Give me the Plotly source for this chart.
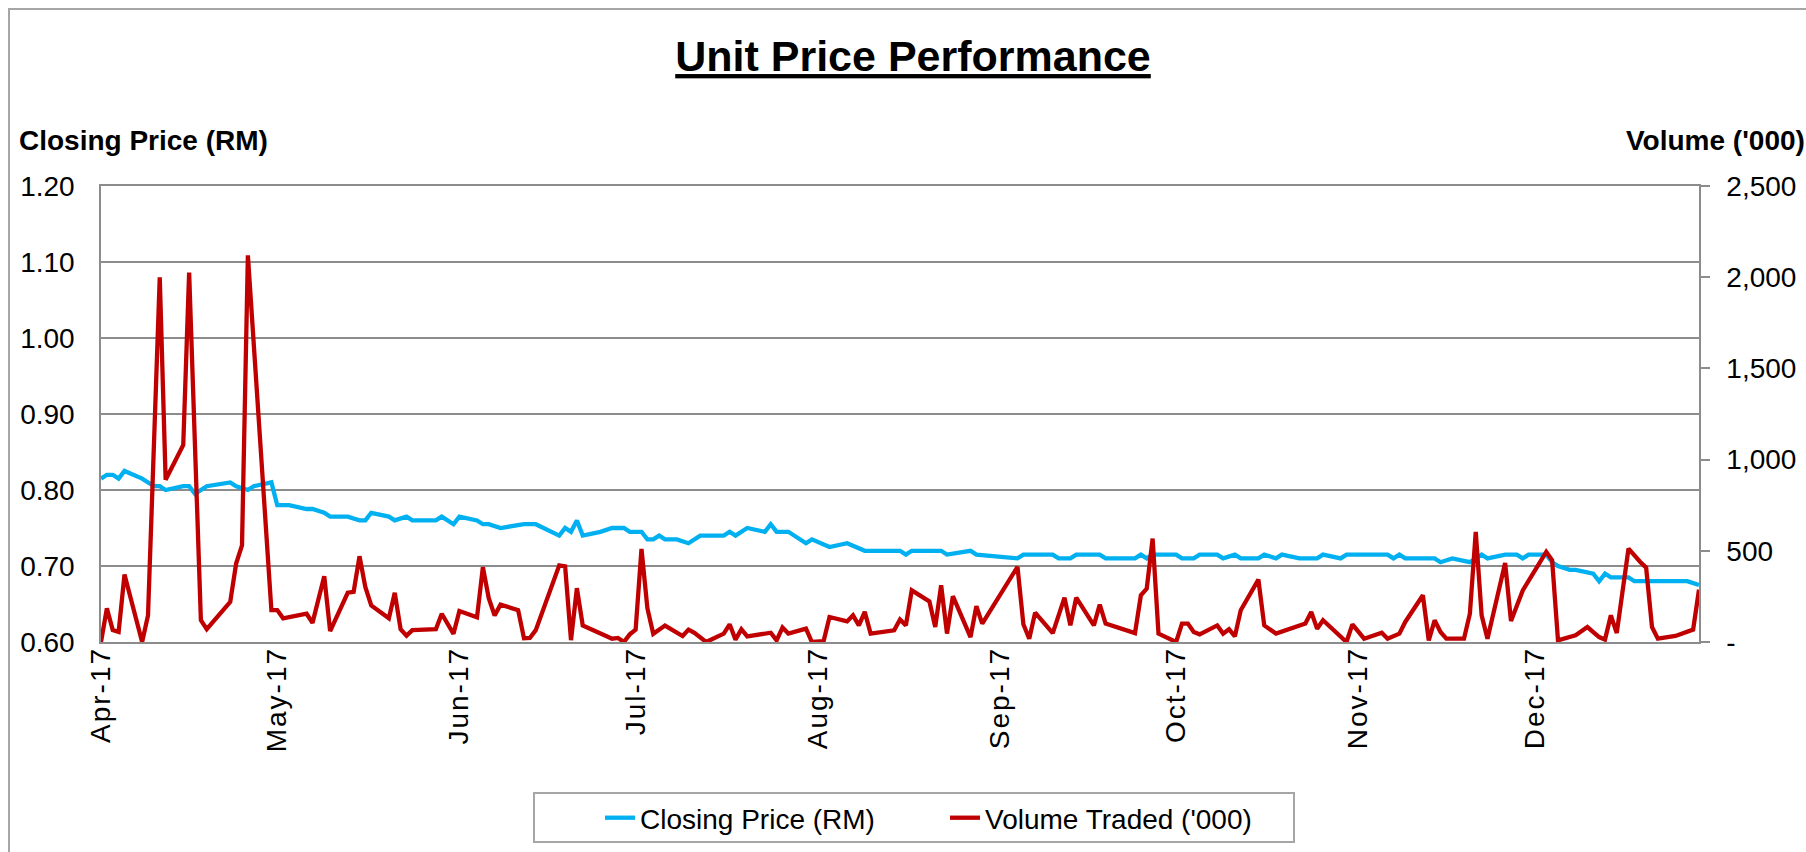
import datetime as dt
import plotly.graph_objects as go

# ---------------- data ----------------
BASE_DATE = dt.date(2017, 4, 3)          # calendar-day offsets below count from this date

PRICE_DAY = [0, 1, 2, 3, 4, 7, 9, 10, 11, 14, 15, 16, 18, 22, 23, 25, 26, 29, 30, 32,
             35, 36, 38, 39, 42, 44, 45, 46, 49, 50, 52, 53, 57, 58, 60, 61, 64, 65, 66, 68,
             72, 74, 78, 79, 80, 81, 82, 85, 87, 89, 90, 92, 93, 94, 95, 96, 98, 100, 102, 106,
             107, 108, 110, 113, 114, 115, 117, 120, 121, 124, 127, 130, 136, 137, 138, 143, 144, 148, 149, 156,
             157, 162, 163, 165, 166, 170, 171, 176, 177, 178, 179, 183, 184, 186, 187, 190, 191, 193, 194, 197,
             198, 200, 201, 204, 207, 208, 211, 212, 219, 220, 221, 222, 227, 228, 230, 233, 234, 235, 236, 239,
             241, 242, 243, 246, 247, 248, 250, 251, 254, 255, 256, 257, 260, 261, 263, 264, 270, 272]
PRICE = [0.815, 0.82, 0.82, 0.815, 0.825, 0.815, 0.805, 0.805, 0.80, 0.805, 0.805, 0.795, 0.805, 0.81, 0.805, 0.80, 0.805, 0.81, 0.78, 0.78,
         0.775, 0.775, 0.77, 0.765, 0.765, 0.76, 0.76, 0.77, 0.765, 0.76, 0.765, 0.76, 0.76, 0.765, 0.755, 0.765, 0.76, 0.755, 0.755, 0.75,
         0.755, 0.755, 0.74, 0.75, 0.745, 0.76, 0.74, 0.745, 0.75, 0.75, 0.745, 0.745, 0.735, 0.735, 0.74, 0.735, 0.735, 0.73, 0.74, 0.74,
         0.745, 0.74, 0.75, 0.745, 0.755, 0.745, 0.745, 0.73, 0.735, 0.725, 0.73, 0.72, 0.72, 0.715, 0.72, 0.72, 0.715, 0.72, 0.715, 0.71,
         0.715, 0.715, 0.71, 0.71, 0.715, 0.715, 0.71, 0.71, 0.715, 0.71, 0.715, 0.715, 0.71, 0.71, 0.715, 0.715, 0.71, 0.715, 0.71, 0.71,
         0.715, 0.71, 0.715, 0.71, 0.71, 0.715, 0.71, 0.715, 0.715, 0.71, 0.715, 0.71, 0.71, 0.705, 0.71, 0.705, 0.71, 0.715, 0.71, 0.715,
         0.715, 0.71, 0.715, 0.715, 0.705, 0.70, 0.695, 0.695, 0.69, 0.68, 0.69, 0.685, 0.685, 0.68, 0.68, 0.68, 0.68, 0.675]

VOL_DAY = [0, 1, 2, 3, 4, 7, 8, 10, 11, 14, 15, 17, 18, 22, 23, 24, 25, 29, 30, 31,
           35, 36, 38, 39, 42, 43, 44, 45, 46, 49, 50, 51, 52, 53, 57, 58, 60, 61, 64, 65,
           66, 67, 68, 71, 72, 73, 74, 78, 79, 80, 81, 82, 87, 88, 89, 90, 91, 92, 93, 94,
           96, 99, 100, 101, 103, 106, 107, 108, 109, 110, 114, 115, 116, 117, 120, 121, 123, 124, 127, 128,
           129, 130, 131, 135, 136, 137, 138, 141, 142, 143, 144, 145, 148, 149, 150, 156, 157, 158, 159, 162,
           164, 165, 166, 169, 170, 171, 176, 177, 178, 179, 180, 183, 184, 185, 186, 187, 190, 191, 192, 193,
           194, 197, 198, 200, 205, 206, 207, 208, 212, 213, 215, 218, 219, 221, 222, 225, 226, 227, 228, 229,
           232, 233, 234, 235, 236, 239, 240, 242, 246, 247, 248, 251, 253, 255, 256, 257, 258, 260, 262, 263,
           264, 265, 268, 271, 272]
VOLUME = [0, 185, 65, 55, 370, 0, 145, 2000, 890, 1080, 2025, 120, 70, 220, 430, 530, 2120, 175, 175, 130,
          155, 105, 360, 60, 270, 275, 470, 300, 200, 130, 270, 70, 35, 65, 70, 155, 45, 170, 135, 410,
          240, 145, 205, 175, 20, 22, 65, 420, 415, 10, 295, 90, 18, 22, 0, 42, 68, 510, 185, 45,
          90, 33, 68, 50, 0, 46, 97, 13, 70, 31, 51, 9, 79, 46, 73, 0, 5, 137, 113, 146,
          91, 165, 46, 64, 123, 91, 283, 223, 82, 311, 46, 251, 27, 196, 101, 412, 97, 18, 161, 49,
          243, 91, 243, 91, 205, 101, 49, 256, 293, 567, 46, 0, 101, 101, 55, 42, 91, 46, 70, 31,
          174, 342, 91, 46, 101, 165, 73, 119, 0, 97, 18, 51, 18, 46, 110, 256, 9, 119, 55, 18,
          18, 155, 604, 146, 18, 433, 115, 283, 494, 448, 9, 37, 82, 27, 13, 146, 49, 512, 439, 408,
          82, 18, 33, 68, 287]

MONTH_TICK_DAY = [0, 30, 61, 91, 122, 153, 183, 214, 244]
MONTH_LABELS = ["Apr-17", "May-17", "Jun-17", "Jul-17", "Aug-17", "Sep-17", "Oct-17", "Nov-17", "Dec-17"]
AXIS_END_DAY = 272

PRICE_TICKS = [0.6, 0.7, 0.8, 0.9, 1.0, 1.1, 1.2]
VOL_TICKS = [0, 500, 1000, 1500, 2000, 2500]
VOL_TICK_TEXT = ["-", "500", "1,000", "1,500", "2,000", "2,500"]


def to_dates(days):
    return [(BASE_DATE + dt.timedelta(days=d)).isoformat() for d in days]


# ---------------- figure ----------------
FONT = "Liberation Sans, Arial, sans-serif"
GRID = "#8C8C8C"
BLUE = "#00B0F0"
RED = "#C00000"

fig = go.Figure()
fig.add_trace(go.Scatter(x=to_dates(PRICE_DAY), y=PRICE, mode="lines",
                         name="Closing Price (RM)",
                         line=dict(color=BLUE, width=4.3)))
fig.add_trace(go.Scatter(x=to_dates(VOL_DAY), y=VOLUME, mode="lines",
                         name="Volume Traded ('000)", yaxis="y2",
                         line=dict(color=RED, width=4.3)))

W, H = 1806, 852
L, R, T, B = 101, 107, 186, 210
pw, ph = W - L - R, H - T - B


def px_x(p):
    return (p - L) / pw


def px_y(p):
    return (H - B - p) / ph


x_tick_text = ['<span style="letter-spacing:2px">%s</span>' % s for s in MONTH_LABELS]

fig.update_layout(
    width=W, height=H,
    margin=dict(l=L, r=R, t=T, b=B, pad=0, autoexpand=False),
    paper_bgcolor="white", plot_bgcolor="white",
    font=dict(family=FONT, size=28, color="black"),
    title=dict(text='<span style="text-decoration:underline"><b>Unit Price Performance</b></span>',
               font=dict(family=FONT, size=43, color="black"),
               x=913 / W, xref="container", xanchor="center",
               y=1 - 56 / H, yref="container", yanchor="middle"),
    xaxis=dict(type="date",
               range=to_dates([0, AXIS_END_DAY]),
               tickmode="array", tickvals=to_dates(MONTH_TICK_DAY), ticktext=x_tick_text,
               tickangle=-90, ticks="", showgrid=False,
               showline=True, mirror=True, linecolor=GRID, linewidth=1.5,
               tickfont=dict(size=28), ticklabelstandoff=-8, zeroline=False),
    yaxis=dict(range=[0.6, 1.2], tickmode="array", tickvals=PRICE_TICKS, tickformat=".2f",
               showgrid=True, gridcolor=GRID, gridwidth=1.5,
               showline=True, linecolor=GRID, linewidth=1.5, ticks="",
               tickfont=dict(size=28), ticklabelstandoff=19, zeroline=False),
    yaxis2=dict(range=[0, 2500], overlaying="y", side="right",
                tickmode="array", tickvals=VOL_TICKS, ticktext=VOL_TICK_TEXT,
                showgrid=False, showline=True, linecolor=GRID, linewidth=1.5,
                ticks="outside", ticklen=9, tickcolor=GRID, tickwidth=1.5,
                tickfont=dict(size=28), ticklabelstandoff=11, zeroline=False),
    showlegend=True,
    legend=dict(orientation="h", x=px_x(600), xanchor="left", y=px_y(818), yanchor="middle",
                borderwidth=0, bgcolor="rgba(0,0,0,0)",
                font=dict(family=FONT, size=28), entrywidth=300, entrywidthmode="pixels"),
    annotations=[
        dict(text="<b>Closing Price (RM)</b>", xref="paper", yref="paper",
             x=px_x(17), y=px_y(140), xanchor="left", yanchor="middle",
             showarrow=False, font=dict(family=FONT, size=28, color="black")),
        dict(text="<b>Volume ('000)</b>", xref="paper", yref="paper",
             x=px_x(1807), y=px_y(140), xanchor="right", yanchor="middle",
             showarrow=False, font=dict(family=FONT, size=28, color="black")),
    ],
    shapes=[
        # chart-area border
        dict(type="rect", xref="paper", yref="paper",
             x0=px_x(9), x1=px_x(1815), y0=px_y(870), y1=px_y(9),
             line=dict(color="#A6A6A6", width=2), fillcolor="rgba(0,0,0,0)", layer="below"),
        # legend box
        dict(type="rect", xref="paper", yref="paper",
             x0=px_x(534), x1=px_x(1294), y0=px_y(842), y1=px_y(793),
             line=dict(color="#A6A6A6", width=2), fillcolor="rgba(0,0,0,0)", layer="below"),
    ],
)

fig.write_html("out.html", config={"displayModeBar": False},
               post_script="document.body.style.margin='0px';")
